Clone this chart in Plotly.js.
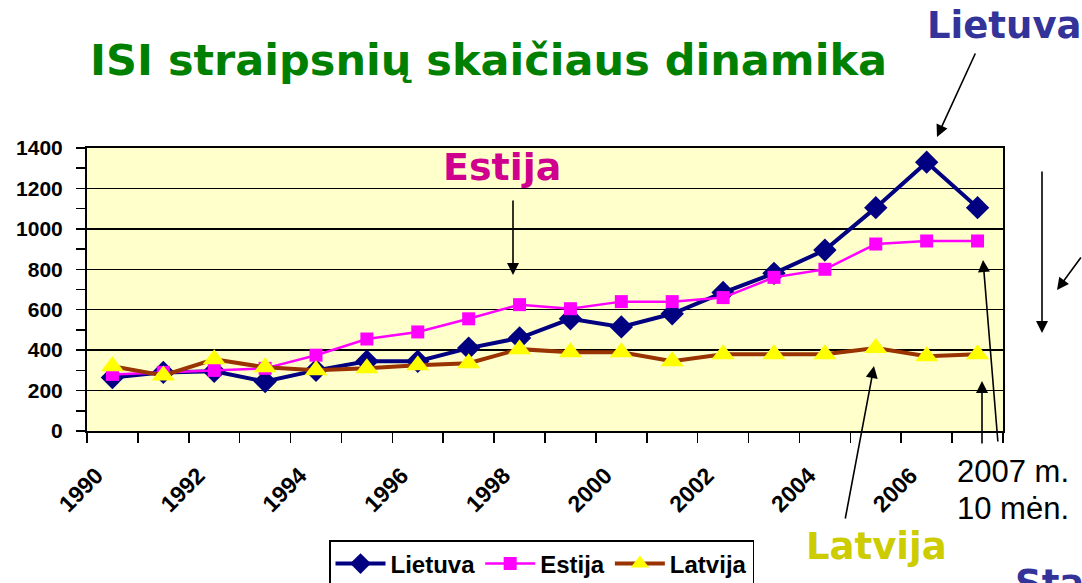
<!DOCTYPE html>
<html>
<head>
<meta charset="utf-8">
<script src="https://cdn.plot.ly/plotly-3.0.1.min.js"></script>
<style>
html,body{margin:0;padding:0;background:#fff;}
#chart{width:1082px;height:583px;}
</style>
</head>
<body>
<div id="chart"></div>
<script>
// ---- data ----
const years = [1990,1991,1992,1993,1994,1995,1996,1997,1998,1999,2000,2001,2002,2003,2004,2005,2006,2007];
const lietuva = [265,290,295,245,300,345,345,410,460,555,515,580,685,780,895,1105,1330,1105];
const estija  = [280,290,300,310,375,455,490,555,625,605,640,640,660,760,800,925,940,940];
const latvija = [320,275,355,315,300,310,325,335,405,390,390,345,380,380,380,410,370,380];
const tickYears = [1990,1992,1994,1996,1998,2000,2002,2004,2006];
const tickLabels = ['1990','1992','1994','1996','1998','2000','2002','2004','2006'];
const seriesNames = ['Lietuva','Estija','Latvija'];

// ---- layout helpers (pixel -> paper) ----
const L = 87, R = 1003, T = 148, B = 431;
const px = x => (x - L) / (R - L);
const py = y => (B - y) / (B - T);

const traces = [
  {x: years, y: lietuva, name: seriesNames[0], type: 'scatter', mode: 'lines+markers',
   line: {color: '#000080', width: 4},
   marker: {symbol: 'diamond', size: 18, color: '#000080'}},
  {x: years, y: estija, name: seriesNames[1], type: 'scatter', mode: 'lines+markers',
   line: {color: '#ff00ff', width: 2.5},
   marker: {symbol: 'square', size: 13, color: '#ff00ff'}},
  {x: years, y: latvija, name: seriesNames[2], type: 'scatter', mode: 'lines+markers',
   line: {color: '#993300', width: 4},
   marker: {symbol: 'triangle-up', size: 20, color: '#ffff00'}}
];

const bold = 'DejaVu Sans';
function label(text, x, y, size, color, family, anchorY) {
  return {text: text, xref: 'paper', yref: 'paper', x: px(x), y: py(y),
          xanchor: 'left', yanchor: anchorY || 'middle', showarrow: false,
          font: {family: family || bold, size: size, color: color, weight: 'bold'}};
}
function arrow(tipX, tipY, tailX, tailY) {
  return {text: '', xref: 'paper', yref: 'paper', x: px(tipX), y: py(tipY),
          ax: tailX - tipX, ay: tailY - tipY, showarrow: true,
          arrowhead: 2, arrowsize: 1.5, arrowwidth: 1.6, arrowcolor: '#000', standoff: 0};
}

const annotations = [
  label('<b>ISI straipsnių skaičiaus dinamika</b>', 88, 60, 43, '#008000'),
  label('<b>Lietuva</b>', 925, 25, 37, '#333399'),
  label('<b>Estija</b>', 441, 167, 38, '#d0008e'),
  label('<b>Latvija</b>', 804, 546, 37, '#cccc00'),
  {text: '2007 m.', xref: 'paper', yref: 'paper', x: px(955), y: py(471), xanchor: 'left', yanchor: 'middle',
   showarrow: false, font: {family: 'Liberation Sans, Arial', size: 31, color: '#000'}},
  {text: '10 mėn.', xref: 'paper', yref: 'paper', x: px(955), y: py(508), xanchor: 'left', yanchor: 'middle',
   showarrow: false, font: {family: 'Liberation Sans, Arial', size: 31, color: '#000'}},
  label('<b>Stat</b>', 1013, 560, 37, '#333399', bold, 'top'),
  arrow(937, 137, 976, 52),
  arrow(513, 275, 513, 199),
  arrow(874, 366, 845, 520),
  arrow(982, 381, 982, 445),
  arrow(983, 260, 998, 443),
  arrow(1042, 333, 1042, 170),
  arrow(1057, 290, 1092, 256)
];

const layout = {
  width: 1082, height: 583,
  margin: {l: L, r: 1082 - R, t: T, b: 583 - B, autoexpand: false},
  paper_bgcolor: '#ffffff',
  plot_bgcolor: '#ffffcc',
  showlegend: true,
  legend: {orientation: 'h', xref: 'paper', yref: 'paper', x: px(329), y: py(540),
           xanchor: 'left', yanchor: 'top', bgcolor: '#ffffff', bordercolor: '#000', borderwidth: 1.5,
           font: {family: 'Liberation Sans, Arial', size: 24, color: '#000', weight: 'bold'},
           itemwidth: 50, tracegroupgap: 0},
  xaxis: {range: [1989.5, 2007.5], tickmode: 'array', tickvals: tickYears, ticktext: tickLabels,
          tickangle: -45, ticks: '', ticklabelstandoff: 20, ticklabelshift: -16,
          tickfont: {family: 'Liberation Sans, Arial', size: 23, color: '#000', weight: 'bold'},
          minor: {tickmode: 'linear', tick0: 1989.5, dtick: 1, ticks: 'outside', ticklen: 10, tickwidth: 1.5, tickcolor: '#000'},
          showgrid: false, zeroline: false, showline: true, linecolor: '#000', linewidth: 2, mirror: true, fixedrange: true},
  yaxis: {range: [0, 1400], dtick: 200, tick0: 0, ticks: 'outside', ticklen: 9, tickwidth: 1.5, tickcolor: '#000',
          ticklabelstandoff: 9,
          tickfont: {family: 'Liberation Sans, Arial', size: 21, color: '#000', weight: 'bold'},
          minor: {dtick: 100, ticks: 'outside', ticklen: 9, tickwidth: 1.5, tickcolor: '#000'},
          showgrid: true, gridcolor: '#000', gridwidth: 1.5, zeroline: false,
          showline: true, linecolor: '#000', linewidth: 2, mirror: true, fixedrange: true},
  annotations: annotations
};

Plotly.newPlot('chart', traces, layout, {displayModeBar: false, staticPlot: true});
</script>
</body>
</html>
